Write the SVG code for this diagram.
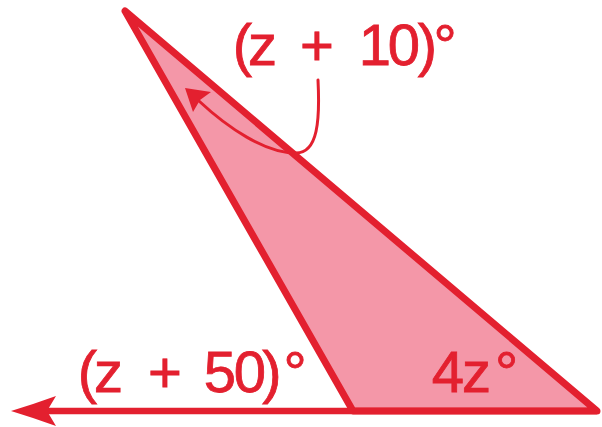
<svg xmlns="http://www.w3.org/2000/svg" width="602" height="427" viewBox="0 0 602 427">
<style>
.edge{fill:#F497A8;stroke:#E3202F;stroke-width:7;stroke-linejoin:round}
.ray{stroke:#E3202F;stroke-width:6.5;fill:none}
.curve{stroke:#E3202F;stroke-width:3;fill:none;stroke-linecap:round}
.head{fill:#E3202F;stroke:none}
.lbl{font-family:"Liberation Sans",Arial,sans-serif;font-size:58px;fill:#E3202F;stroke:#E3202F;stroke-width:0.8;text-anchor:middle}
</style>
<rect width="602" height="427" fill="#ffffff"/>
<g id="triangle">
<polygon class="edge" points="125,11 353,411 597,411"/>
</g>
<g id="connectors">
<line class="ray" x1="46" y1="411" x2="597" y2="411"/>
<path class="head" d="M11,411 Q34,404 56,396 L47,411 L56,426 Q34,418 11,411 Z"/>
<path class="curve" d="M318,80 C320,120 318,153 296,153 C265,153 228,128 199,101"/>
<path class="head" d="M185,88 L211,92 L200,100 L193,112 Z"/>
</g>
<g id="label-top">
<text class="lbl" x="242.5 262.5 290 317 345 375 404 427.5 445" y="65">(z + 10)°</text>
</g>
<g id="label-left">
<text class="lbl" x="87.5 108.5 136 165 192 220 250 272 295" y="392">(z + 50)°</text>
</g>
<g id="label-right">
<text class="lbl" x="448 476.5 506.5" y="392">4z°</text>
</g>
</svg>
